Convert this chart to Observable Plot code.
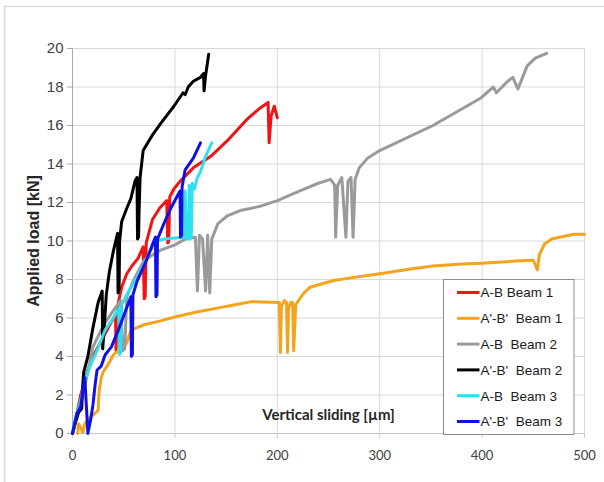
<!DOCTYPE html>
<html>
<head>
<meta charset="utf-8">
<script src="https://cdn.jsdelivr.net/npm/d3@7"></script>
<script src="https://cdn.jsdelivr.net/npm/@observablehq/plot@0.6"></script>
<style>
  html, body { margin: 0; padding: 0; background: #fff; }
  #chart { width: 604px; height: 482px; overflow: hidden; }
</style>
</head>
<body>
<div id="chart"></div>
<script>
// ---- data (vertical sliding in µm, applied load in kN) ----
const xTicks = [0, 100, 200, 300, 400, 500];
const yTicks = [0, 2, 4, 6, 8, 10, 12, 14, 16, 18, 20];

const seriesNames = ["A-B Beam 1", "A'-B'  Beam 1", "A-B  Beam 2", "A'-B'  Beam 2", "A-B  Beam 3", "A'-B'  Beam 3"];
const seriesColors = ["#f01414", "#f2a41c", "#9a9a9a", "#000000", "#2fe0f0", "#1010e6"];

const abBeam1 = [[0,0],[3,0.7],[8,2.0],[15,3.3],[22,4.2],[30,5.0],[38,5.8],[42,6.2],[42.5,4.3],[44,6.6],[48,7.6],[53,8.3],[58,8.7],[64,9.1],[69,9.7],[70,7.0],[71,7.1],[72,9.9],[78,11.1],[85,11.7],[92,12.1],[93,9.9],[94,10.0],[95,12.3],[99,12.7],[105,13.1],[118,13.8],[135,14.4],[151,15.2],[170,16.3],[183,16.9],[191,17.2],[192,15.1],[194,16.5],[197,17.0],[200,16.4]];

const apBeam1 = [[5,0],[6,0.5],[8,0.3],[10,0.05],[12,0.5],[16,0.8],[21,1.0],[25,1.2],[26,2.2],[28,2.9],[30,3.2],[35,3.6],[40,4.1],[45,4.3],[50,4.5],[53,4.7],[56,5.2],[58,5.4],[63,5.5],[70,5.65],[86,5.85],[100,6.05],[120,6.3],[140,6.5],[160,6.7],[175,6.85],[202,6.8],[203,4.2],[204,6.6],[207,6.9],[209,6.8],[210,4.2],[211,6.5],[213,6.8],[215,6.8],[216,4.3],[218,6.7],[222,7.0],[226,7.3],[232,7.6],[255,7.95],[280,8.15],[300,8.3],[330,8.55],[352,8.7],[380,8.8],[400,8.85],[437,8.97],[450,9.0],[454,8.5],[456,9.3],[461,9.85],[468,10.1],[480,10.25],[490,10.35],[500,10.35]];

const abBeam2 = [[0,0],[5,1.0],[10,2.0],[15,3.2],[20,4.5],[30,5.6],[40,6.4],[47,6.9],[49,4.3],[51,4.4],[53,7.1],[60,8.0],[70,9.0],[85,9.5],[100,9.8],[110,10.1],[120,10.2],[122,7.4],[124,10.3],[127,10.1],[130,7.4],[132,10.3],[134,7.3],[136,10.1],[142,10.9],[151,11.3],[165,11.6],[183,11.8],[200,12.1],[222,12.6],[240,13.0],[252,13.2],[256,12.9],[257,10.2],[259,12.9],[263,13.3],[267,10.2],[269,13.1],[272,13.3],[274,10.2],[276,13.2],[280,13.8],[288,14.3],[300,14.7],[352,16.0],[398,17.4],[411,18.0],[414,17.7],[425,18.3],[430,18.5],[435,17.9],[444,19.1],[452,19.5],[463,19.75]];

const apBeam2 = [[0,0],[3,0.6],[6,1.1],[9,1.3],[10,2.5],[11,3.2],[15,4.0],[20,5.5],[25,6.8],[29,7.4],[29.5,4.4],[31,5.5],[33,7.2],[36,8.4],[40,9.5],[44,10.4],[44.5,7.3],[45.5,7.5],[46,10.0],[48,11.0],[53,11.7],[57,12.2],[61,13.1],[63,13.3],[63.5,10.1],[64.5,10.2],[65,11.5],[66,13.3],[69,14.7],[78,15.5],[86,16.1],[99,17.0],[108,17.7],[110,17.6],[113,18.0],[118,18.3],[125,18.5],[128,18.7],[128.5,17.8],[130,18.6],[133,19.7]];

const abBeam3 = [[0,0],[3,0.8],[7,1.5],[10,2.2],[13,2.9],[18,3.6],[24,4.3],[32,5.4],[40,6.0],[45,6.5],[46,4.1],[47,4.2],[48,6.7],[55,7.4],[63,8.1],[70,8.8],[76,9.5],[82,10.0],[90,10.1],[100,10.15],[108,10.2],[110,12.6],[111,10.1],[113,10.1],[114,12.9],[115,10.1],[116,10.2],[117,13.0],[119,12.7],[122,13.3],[125,13.6],[130,14.4],[136,15.1]];

const apBeam3 = [[0,0],[4,1.0],[8,1.4],[10,2.2],[12,2.9],[14,1.0],[15,0],[18,0.8],[20,1.5],[22,2.5],[24,3.3],[28,3.5],[32,4.1],[38,4.5],[45,5.4],[52,6.4],[57,7.1],[57.5,4.0],[58.5,4.1],[59,7.2],[63,7.9],[68,8.5],[73,9.1],[78,9.8],[81,10.2],[81.5,7.1],[82.5,7.2],[83,10.1],[90,11.0],[96,11.7],[103,12.4],[105,12.6],[105.5,10.2],[106.5,10.3],[107,12.8],[110,13.7],[118,14.3],[125,15.1]];

const seriesData = [abBeam1, apBeam1, abBeam2, apBeam2, abBeam3, apBeam3];

// ---- chart ----
const lineMarks = seriesData.map((data, i) =>
  Plot.line(data, {
    x: d => d[0], y: d => d[1],
    stroke: seriesColors[i], strokeWidth: 3,
    strokeLinejoin: "round", strokeLinecap: "round"
  })
);

const chart = Plot.plot({
  width: 604,
  height: 482,
  marginLeft: 72,
  marginRight: 20,
  marginTop: 48,
  marginBottom: 49,
  style: { background: "transparent", fontFamily: "Liberation Sans, Arial, sans-serif" },
  x: { domain: [0, 500] },
  y: { domain: [0, 20] },
  marks: [
    Plot.gridX(xTicks, { stroke: "#d9d9d9", strokeOpacity: 1 }),
    Plot.gridY(yTicks, { stroke: "#d9d9d9", strokeOpacity: 1 }),
    Plot.ruleX([0], { stroke: "#a8a8a8" }),
    Plot.ruleY([0], { stroke: "#c8c8c8" }),
    Plot.axisX(xTicks, {
      tickSize: 5, tickPadding: 12, fontSize: 13, fontFamily: "Lato",
      stroke: "#c8c8c8", fill: "#404040", label: null
    }),
    Plot.axisY(yTicks, {
      tickSize: 5, tickPadding: 4, fontSize: 15, fontFamily: "Liberation Sans",
      stroke: "#a8a8a8", fill: "#404040", label: null
    }),
    Plot.text(["Vertical sliding [µm]"], {
      frameAnchor: "bottom", dy: -18, textAnchor: "middle", lineAnchor: "middle",
      fontFamily: "Lato", fontWeight: "bold", fontSize: 15, fill: "#262626"
    }),
    Plot.text(["Applied load [kN]"], {
      frameAnchor: "left", dx: -38.5, rotate: -90, textAnchor: "middle", lineAnchor: "middle",
      fontFamily: "Liberation Sans", fontWeight: "bold", fontSize: 16, fill: "#262626"
    }),
    ...lineMarks
  ]
});

document.getElementById("chart").appendChild(chart);

// ---- outer border and legend ----
const svg = d3.select(chart);
svg.insert("rect", ":first-child")
  .attr("x", 4.5).attr("y", 6.5).attr("width", 640).attr("height", 520)
  .attr("fill", "#ffffff").attr("stroke", "#dcdcdc").attr("stroke-width", 1.5);

const lg = svg.append("g").attr("transform", "translate(443.5,279.5)");
lg.append("rect")
  .attr("width", 130.5).attr("height", 155)
  .attr("fill", "#ffffff").attr("stroke", "#8c8c8c").attr("stroke-width", 1);
seriesNames.forEach((name, i) => {
  const cy = 13 + i * 25.8;
  lg.append("line")
    .attr("x1", 13.5).attr("x2", 36).attr("y1", cy).attr("y2", cy)
    .attr("stroke", seriesColors[i]).attr("stroke-width", 3);
  lg.append("text")
    .attr("x", 37).attr("y", cy).attr("dy", "0.36em")
    .attr("text-anchor", "start")
    .attr("font-family", "Liberation Sans, Arial, sans-serif")
    .attr("font-size", 13.5).attr("fill", "#1a1a1a")
    .style("white-space", "pre")
    .text(name);
});
</script>
</body>
</html>
